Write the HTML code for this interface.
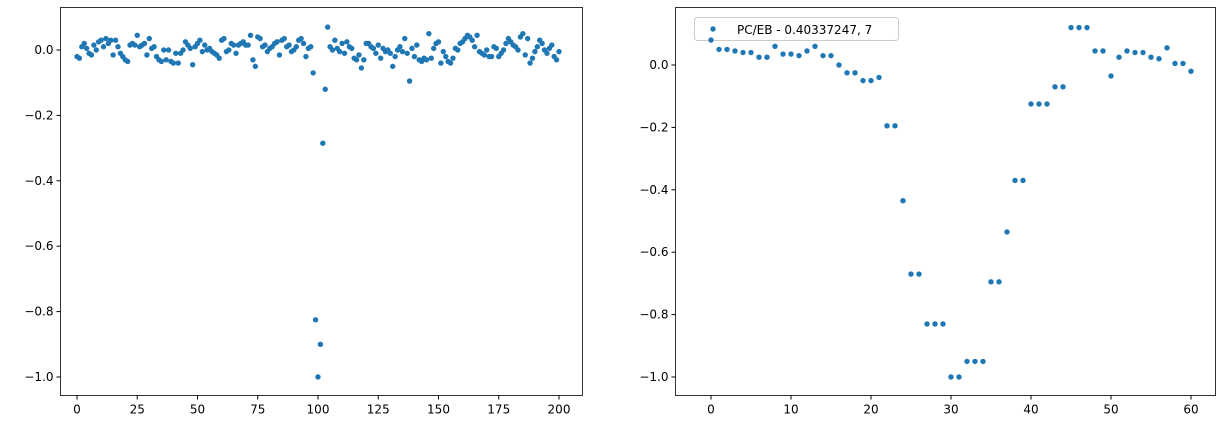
<!DOCTYPE html>
<html><head><meta charset="utf-8"><style>
body{margin:0;background:#fff;font-family:"Liberation Sans","DejaVu Sans",sans-serif}
svg text{font-size:12px;fill:#000;font-family:"DejaVu Sans","Liberation Sans",sans-serif}
</style></head><body>
<svg id="c" width="1225" height="428"></svg>
<script>
const leftValues=[
-0.02,-0.025,0.01,0.02,0.005,-0.01,-0.015,0.015,0.0,0.025,
0.03,0.01,0.035,0.02,0.03,-0.015,0.03,0.01,-0.01,-0.02,
-0.03,-0.035,0.015,0.02,0.015,0.045,0.01,0.015,0.02,-0.015,
0.035,0.005,0.01,-0.02,-0.03,-0.035,0.0,-0.03,0.0,-0.035,
-0.04,-0.01,-0.04,-0.01,0.0,0.025,0.015,0.005,-0.045,0.01,
0.02,0.03,-0.005,0.015,0.0,0.005,-0.005,-0.01,-0.015,-0.025,
0.03,0.035,-0.005,0.0,0.02,0.015,-0.01,0.015,0.02,0.025,
0.015,0.015,0.045,-0.03,-0.05,0.04,0.035,0.01,0.015,-0.005,
0.005,0.01,0.02,0.025,-0.015,0.03,0.035,0.01,0.015,-0.005,
0.0,0.01,0.03,0.035,0.02,-0.02,0.005,0.01,-0.07,-0.825,
-1.0,-0.9,-0.285,-0.12,0.07,0.01,0.0,0.03,0.005,-0.005,
0.02,-0.01,0.025,0.01,0.005,-0.025,-0.03,-0.015,-0.055,-0.03,
0.02,0.02,0.01,0.005,-0.01,0.015,-0.025,0.005,-0.005,0.0,
-0.01,-0.05,-0.02,0.0,0.01,-0.005,0.035,-0.01,-0.095,0.005,
-0.02,0.015,-0.03,-0.035,-0.025,-0.03,0.05,-0.025,0.005,0.02,
0.025,-0.04,-0.005,-0.02,-0.035,-0.04,-0.025,0.005,0.0,0.02,
0.025,0.035,0.045,0.04,0.03,0.01,0.045,-0.005,-0.01,-0.015,
0.0,-0.02,-0.02,0.01,0.005,-0.02,-0.01,0.0,0.02,0.035,
0.025,0.015,0.01,0.0,0.04,0.05,-0.015,0.035,-0.04,-0.025,
-0.005,0.01,0.03,0.02,0.0,-0.01,0.005,0.015,-0.02,-0.03,-0.005];
const rightValues=[0.08,0.05,0.05,0.045,0.04,0.04,0.025,0.025,0.06,0.035,0.035,0.03,0.045,0.06,0.03,0.03,0.0,-0.025,-0.025,-0.05,-0.05,-0.04,-0.195,-0.195,-0.435,-0.67,-0.67,-0.83,-0.83,-0.83,-1.0,-1.0,-0.95,-0.95,-0.95,-0.695,-0.695,-0.535,-0.37,-0.37,-0.125,-0.125,-0.125,-0.07,-0.07,0.12,0.12,0.12,0.045,0.045,-0.035,0.025,0.045,0.04,0.04,0.025,0.02,0.055,0.005,0.005,-0.02];
const leftXTicks=[0,25,50,75,100,125,150,175,200];
const rightXTicks=[0,10,20,30,40,50,60];
const yTicks=[0.0,-0.2,-0.4,-0.6,-0.8,-1.0];
const legendLabel="PC/EB - 0.40337247, 7";
const svg=document.getElementById('c');
const NS='http://www.w3.org/2000/svg';
function mk(t,a){const e=document.createElementNS(NS,t);for(const k in a)e.setAttribute(k,a[k]);svg.appendChild(e);return e;}
const lg=mk('rect',{x:694.5,y:17.5,width:204,height:23,rx:3,fill:'#fff',stroke:'#ccc'});

const lm=mk('circle',{cx:713,cy:29,r:2.7,fill:'#1f77b4'});

const lt=mk('text',{x:737,y:34});lt.textContent=legendLabel;

function panel(vals,xTicks,box,xs,ys,name){
  const xf=v=>xs[0]+(v-xs[1])*xs[2];
  const yf=v=>ys[0]-v*ys[1];
  vals.forEach((v,i)=>{const c=mk('circle',{cx:xf(i),cy:yf(v),r:2.7,fill:'#1f77b4'});
    
    });
  xTicks.forEach(t=>{const x=xf(t);
    const l=mk('line',{x1:x,x2:x,y1:box[3],y2:box[3]+4,stroke:'#000'});
    
    const tx=mk('text',{x:x,y:box[3]+18,'text-anchor':'middle'});tx.textContent=t;
    });
  yTicks.forEach(t=>{const y=yf(t);
    const l=mk('line',{x1:box[0]-4,x2:box[0],y1:y,y2:y,stroke:'#000'});
    
    const tx=mk('text',{x:box[0]-7,y:y+4,'text-anchor':'end'});tx.textContent=(t===0?'0.0':(t<0?'\u2212'+(-t).toFixed(1):t.toFixed(1)));
    });
  const r=mk('rect',{x:box[0],y:box[1],width:box[2]-box[0],height:box[3]-box[1],fill:'none',stroke:'#000','stroke-width':0.8});
  
}
panel(leftValues,leftXTicks,[60.5,7.5,582.5,395.5],[77,0,482/200],[50,327],'left-chart');
panel(rightValues,rightXTicks,[675.5,7.5,1215.5,395.5],[711,0,8],[65,312],'right-chart');
</script>
</body></html>
